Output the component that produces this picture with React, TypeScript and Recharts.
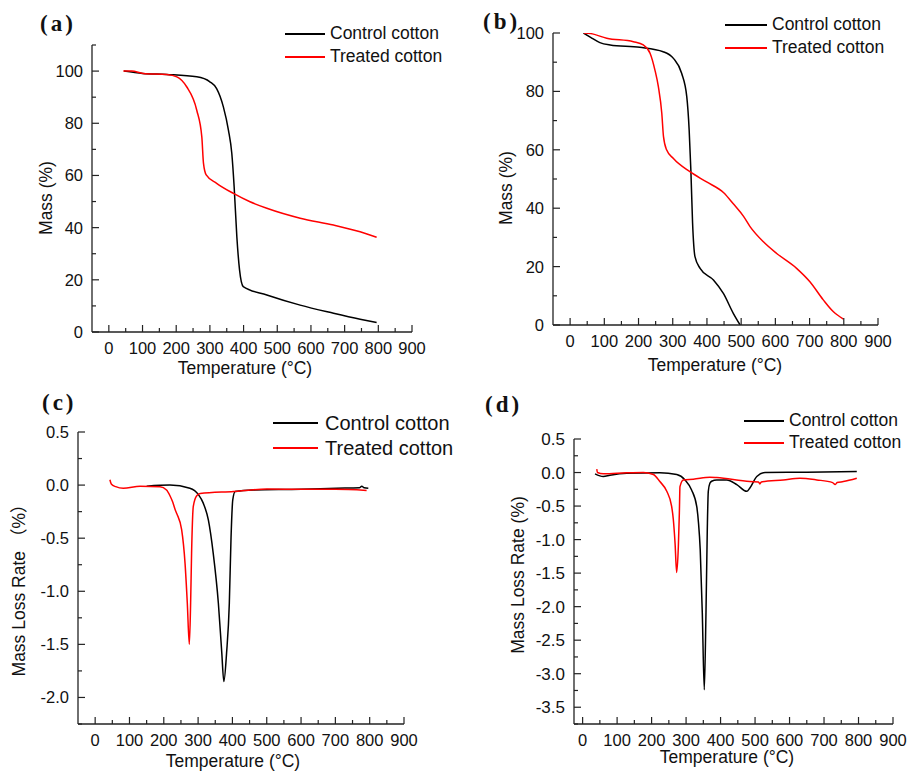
import React from 'react';
import { LineChart, Line, XAxis, YAxis } from 'recharts';

const FONT = '"Liberation Sans", Arial, "Noto Sans CJK SC", sans-serif';
const SERIF = '"Liberation Serif", "Times New Roman", serif';
const BLACK = '#000000';
const RED = '#ff0000';
const AXIS = '#222222';
const TEXT = '#111111';

// ---------- shared tick labels ----------
const tempTicks = [0, 50, 100, 150, 200, 250, 300, 350, 400, 450, 500, 550, 600, 650, 700, 750, 800, 850, 900];
const tempMajor = [0, 100, 200, 300, 400, 500, 600, 700, 800, 900];

const massTicksA = [0, 10, 20, 30, 40, 50, 60, 70, 80, 90, 100, 110];
const massTicksB = [0, 10, 20, 30, 40, 50, 60, 70, 80, 90, 100];
const massMajor = [0, 20, 40, 60, 80, 100];

const rateTicksC = [-2.25, -2.0, -1.75, -1.5, -1.25, -1.0, -0.75, -0.5, -0.25, 0.0, 0.25, 0.5];
const rateMajorC = [-2.0, -1.5, -1.0, -0.5, 0.0, 0.5];
const rateTicksD = [-3.75, -3.5, -3.25, -3.0, -2.75, -2.5, -2.25, -2.0, -1.75, -1.5, -1.25, -1.0, -0.75, -0.5, -0.25, 0.0, 0.25, 0.5];
const rateMajorD = [-3.5, -3.0, -2.5, -2.0, -1.5, -1.0, -0.5, 0.0, 0.5];

const seriesNames = ['Control cotton', 'Treated cotton'];

// ---------- panel (a): TGA ----------
const aControlT = [45, 100, 172, 261, 300, 320, 340, 355, 365, 372, 380, 388, 399, 469, 568, 667, 746, 795];
const aControlM = [100, 99.1, 98.7, 97.8, 95.9, 93.3, 86.3, 77.4, 68.5, 55.7, 36.5, 23.8, 17.4, 14.2, 10.3, 7.2, 4.9, 3.6];
const aTreatedT = [43, 68, 102, 172, 202, 231, 261, 276, 281, 289, 320, 370, 419, 469, 568, 667, 746, 795];
const aTreatedM = [100, 100, 99.1, 98.7, 97.8, 94, 85, 74.8, 64.6, 60.2, 57, 53.1, 49.9, 47.4, 43.6, 41, 38.4, 36.3];

// ---------- panel (b): TGA ----------
const bControlT = [39, 60, 87, 117, 204, 272, 302, 326, 341, 348, 353, 358, 365, 380, 419, 448, 477, 497];
const bControlM = [100, 98.5, 96.7, 95.9, 95.1, 93.6, 91.3, 86.2, 78.2, 66.8, 53, 34.9, 23.4, 19.4, 15.4, 10.8, 4, 0];
const bTreatedT = [40, 60, 107, 185, 214, 234, 248, 258, 268, 273, 282, 302, 350, 399, 449, 477, 507, 526, 565, 604, 662, 701, 740, 769, 799];
const bTreatedM = [100, 99.8, 98.2, 97, 95.9, 93, 87.3, 81.6, 72.5, 64.5, 60, 57, 52.5, 49, 45.3, 41.5, 37.2, 33.7, 28.5, 24.5, 19.4, 14.8, 8.6, 4.6, 2];

// ---------- panel (c): DTG ----------
const cControlT = [150, 218, 276, 301, 315, 330, 344, 359, 369, 375, 383, 391, 396, 401, 408, 461, 600, 704, 770, 777, 784, 796];
const cControlV = [-0.01, 0.0, -0.03, -0.09, -0.17, -0.33, -0.64, -1.11, -1.58, -1.85, -1.58, -1.11, -0.49, -0.14, -0.06, -0.046, -0.04, -0.03, -0.025, -0.01, -0.025, -0.03];
const cTreatedT = [43, 47, 60, 82, 131, 189, 208, 218, 226, 233, 238, 252, 262, 268.5, 274.4, 278.2, 281, 286, 296, 306, 403, 500, 600, 700, 791];
const cTreatedV = [0.05, 0.01, -0.015, -0.03, -0.01, -0.015, -0.046, -0.1, -0.16, -0.23, -0.27, -0.42, -0.74, -1.11, -1.5, -1.11, -0.64, -0.2, -0.1, -0.08, -0.06, -0.037, -0.04, -0.04, -0.05];

// ---------- panel (d): DTG ----------
const dControlT = [36, 60, 79, 128, 224, 273, 297, 316, 331, 336, 341, 347, 352.8, 357.7, 361.5, 364.4, 369, 374, 389, 418, 447, 476, 485, 505, 529, 650, 795];
const dControlV = [-0.02, -0.06, -0.04, -0.01, -0.005, -0.03, -0.11, -0.26, -0.51, -0.75, -1.15, -2.09, -3.24, -2.09, -0.85, -0.28, -0.16, -0.13, -0.11, -0.11, -0.18, -0.28, -0.23, -0.06, 0.0, 0.005, 0.015];
const dTreatedT = [41, 43, 60, 128, 176, 205, 224, 244, 258, 263, 268, 272.7, 277.6, 280.5, 282.3, 292, 321, 369, 389, 485, 510, 514, 518, 582, 630, 679, 725, 732, 738, 756, 795];
const dTreatedV = [0.05, 0.0, -0.02, -0.005, 0.0, -0.03, -0.135, -0.28, -0.5, -0.7, -1.05, -1.49, -1.1, -0.6, -0.21, -0.11, -0.1, -0.07, -0.075, -0.135, -0.14, -0.17, -0.14, -0.11, -0.085, -0.11, -0.15, -0.18, -0.15, -0.135, -0.085];

type Pt = { t: number; v: number };
const zip = (t: number[], v: number[]): Pt[] => t.map((x, i) => ({ t: x, v: v[i] }));

interface Series { data: Pt[]; color: string; name: string }
interface Box { left: number; top: number; width: number; height: number }
interface Plot { x0: number; y0: number; x1: number; y1: number }
interface PanelProps {
  box: Box;
  plot: Plot;
  xDomain: [number, number];
  yDomain: [number, number];
  yTicks: number[];
  yMajor: number[];
  yFmt: (v: number) => string;
  yFont: number;
  series: Series[];
  tag: string;
  tagX: number;
  tagBaseline: number;
  legendX0: number;
  legendX1: number;
  legendY: [number, number];
  legendTextX: number;
  legendFont: number;
  yTitle: string;
  yTitleX: number;
  yTitleY: number;
  yTitleFont: number;
  xTitleX: number;
  xTitleY: number;
}

function Panel(p: PanelProps) {
  const { box, plot } = p;
  const YW = 40;
  const XH = 30;
  const margin = {
    top: plot.y0 - box.top,
    left: plot.x0 - box.left - YW,
    right: box.left + box.width - plot.x1,
    bottom: box.top + box.height - plot.y1 - XH,
  };
  const axisY = plot.y1 - box.top;
  const axisX = plot.x0 - box.left;

  const xTick = (props: any) => {
    const { x, payload } = props;
    const major = tempMajor.includes(payload.value);
    return (
      <g>
        <line x1={x} x2={x} y1={axisY} y2={axisY - (major ? 7 : 4)} stroke={AXIS} strokeWidth={1.2} />
        {major && (
          <text x={x} y={axisY + 22} textAnchor="middle" fontSize={16.5} fill={TEXT} style={{ fontFamily: FONT }}>
            {payload.value}
          </text>
        )}
      </g>
    );
  };
  const yTick = (props: any) => {
    const { y, payload } = props;
    const major = p.yMajor.some((m) => Math.abs(m - payload.value) < 1e-9);
    return (
      <g>
        <line x1={axisX} x2={axisX + (major ? 7 : 4)} y1={y} y2={y} stroke={AXIS} strokeWidth={1.2} />
        {major && (
          <text x={axisX - 9} y={y + p.yFont * 0.36} textAnchor="end" fontSize={p.yFont} fill={TEXT} style={{ fontFamily: FONT }}>
            {p.yFmt(payload.value)}
          </text>
        )}
      </g>
    );
  };

  const rel = (x: number, y: number) => ({ left: x - box.left, top: y - box.top });

  return (
    <div style={{ position: 'absolute', left: box.left, top: box.top, width: box.width, height: box.height }}>
      <LineChart width={box.width} height={box.height} margin={margin}>
        <XAxis
          type="number"
          dataKey="t"
          domain={p.xDomain}
          ticks={tempTicks}
          interval={0}
          allowDataOverflow
          height={XH}
          tickSize={0}
          tickMargin={0}
          tickLine={false}
          tick={xTick}
          axisLine={{ stroke: AXIS, strokeWidth: 1.3 }}
        />
        <YAxis
          type="number"
          dataKey="v"
          domain={p.yDomain}
          ticks={p.yTicks}
          interval={0}
          allowDataOverflow
          width={YW}
          tickSize={0}
          tickMargin={0}
          tickLine={false}
          tick={yTick}
          axisLine={{ stroke: AXIS, strokeWidth: 1.3 }}
        />
        {p.series.map((s) => (
          <Line
            key={s.name}
            data={s.data}
            dataKey="v"
            name={s.name}
            type="monotone"
            stroke={s.color}
            strokeWidth={1.5}
            dot={false}
            activeDot={false}
            isAnimationActive={false}
          />
        ))}
      </LineChart>

      {/* panel tag */}
      <div
        style={{
          position: 'absolute',
          ...rel(p.tagX, p.tagBaseline - 19.3),
          fontFamily: SERIF,
          fontWeight: 'bold',
          fontSize: 23,
          lineHeight: 1,
          letterSpacing: 3,
          color: TEXT,
          whiteSpace: 'nowrap',
        }}
      >
        {p.tag}
      </div>

      {/* legend */}
      {p.series.map((s, i) => (
        <React.Fragment key={'lg' + s.name}>
          <div
            style={{
              position: 'absolute',
              ...rel(p.legendX0, p.legendY[i] - 1),
              width: p.legendX1 - p.legendX0,
              height: 2,
              background: s.color,
            }}
          />
          <div
            style={{
              position: 'absolute',
              ...rel(p.legendTextX, p.legendY[i]),
              transform: 'translateY(-50%)',
              fontFamily: FONT,
              fontSize: p.legendFont,
              lineHeight: 1,
              color: TEXT,
              whiteSpace: 'nowrap',
            }}
          >
            {s.name}
          </div>
        </React.Fragment>
      ))}

      {/* y title */}
      <div
        style={{
          position: 'absolute',
          ...rel(p.yTitleX, p.yTitleY),
          transform: 'translate(-50%, -50%) rotate(-90deg)',
          fontFamily: FONT,
          fontSize: p.yTitleFont,
          lineHeight: 1,
          color: TEXT,
          whiteSpace: 'nowrap',
        }}
      >
        {p.yTitle}
      </div>

      {/* x title */}
      <div
        style={{
          position: 'absolute',
          ...rel(p.xTitleX, p.xTitleY),
          transform: 'translate(-50%, -50%)',
          fontFamily: FONT,
          fontSize: 17.5,
          lineHeight: 1,
          color: TEXT,
          whiteSpace: 'nowrap',
        }}
      >
        Temperature (°C)
      </div>
    </div>
  );
}

const fmtInt = (v: number) => String(v);
const fmt1 = (v: number) => v.toFixed(1);

export default function App() {
  return (
    <div style={{ position: 'absolute', left: 0, top: 0, width: 909, height: 774, background: '#ffffff', overflow: 'hidden' }}>
      <Panel
        box={{ left: 0, top: 0, width: 455, height: 380 }}
        plot={{ x0: 92, y0: 45, x1: 412, y1: 332 }}
        xDomain={[-50, 900]}
        yDomain={[0, 110]}
        yTicks={massTicksA}
        yMajor={massMajor}
        yFmt={fmtInt}
        yFont={16.5}
        series={[
          { data: zip(aControlT, aControlM), color: BLACK, name: seriesNames[0] },
          { data: zip(aTreatedT, aTreatedM), color: RED, name: seriesNames[1] },
        ]}
        tag="(a)"
        tagX={40}
        tagBaseline={31}
        legendX0={285}
        legendX1={325}
        legendY={[34, 57]}
        legendTextX={330}
        legendFont={17.5}
        yTitle="Mass (%)"
        yTitleX={47}
        yTitleY={198}
        yTitleFont={17.5}
        xTitleX={245}
        xTitleY={369}
      />
      <Panel
        box={{ left: 455, top: 0, width: 454, height: 380 }}
        plot={{ x0: 553, y0: 33, x1: 878, y1: 325 }}
        xDomain={[-50, 900]}
        yDomain={[0, 100]}
        yTicks={massTicksB}
        yMajor={massMajor}
        yFmt={fmtInt}
        yFont={16.5}
        series={[
          { data: zip(bControlT, bControlM), color: BLACK, name: seriesNames[0] },
          { data: zip(bTreatedT, bTreatedM), color: RED, name: seriesNames[1] },
        ]}
        tag="(b)"
        tagX={483}
        tagBaseline={29}
        legendX0={725}
        legendX1={767}
        legendY={[25, 48]}
        legendTextX={772}
        legendFont={17.5}
        yTitle="Mass (%)"
        yTitleX={507}
        yTitleY={188}
        yTitleFont={17.5}
        xTitleX={715}
        xTitleY={366}
      />
      <Panel
        box={{ left: 0, top: 380, width: 460, height: 394 }}
        plot={{ x0: 78, y0: 432, x1: 404, y1: 724 }}
        xDomain={[-50, 900]}
        yDomain={[-2.25, 0.5]}
        yTicks={rateTicksC}
        yMajor={rateMajorC}
        yFmt={fmt1}
        yFont={16.5}
        series={[
          { data: zip(cControlT, cControlV), color: BLACK, name: seriesNames[0] },
          { data: zip(cTreatedT, cTreatedV), color: RED, name: seriesNames[1] },
        ]}
        tag="(c)"
        tagX={42}
        tagBaseline={410}
        legendX0={273}
        legendX1={318}
        legendY={[423, 448]}
        legendTextX={325}
        legendFont={20}
        yTitle="Mass Loss Rate （%）"
        yTitleX={20}
        yTitleY={586}
        yTitleFont={17.5}
        xTitleX={233}
        xTitleY={762}
      />
      <Panel
        box={{ left: 460, top: 380, width: 449, height: 394 }}
        plot={{ x0: 574, y0: 439, x1: 893, y1: 724 }}
        xDomain={[-25, 900]}
        yDomain={[-3.75, 0.5]}
        yTicks={rateTicksD}
        yMajor={rateMajorD}
        yFmt={fmt1}
        yFont={17}
        series={[
          { data: zip(dControlT, dControlV), color: BLACK, name: seriesNames[0] },
          { data: zip(dTreatedT, dTreatedV), color: RED, name: seriesNames[1] },
        ]}
        tag="(d)"
        tagX={485}
        tagBaseline={412}
        legendX0={744}
        legendX1={784}
        legendY={[421, 443]}
        legendTextX={789}
        legendFont={17.5}
        yTitle="Mass Loss Rate (%)"
        yTitleX={519}
        yTitleY={575}
        yTitleFont={17.5}
        xTitleX={727}
        xTitleY={758}
      />
    </div>
  );
}
